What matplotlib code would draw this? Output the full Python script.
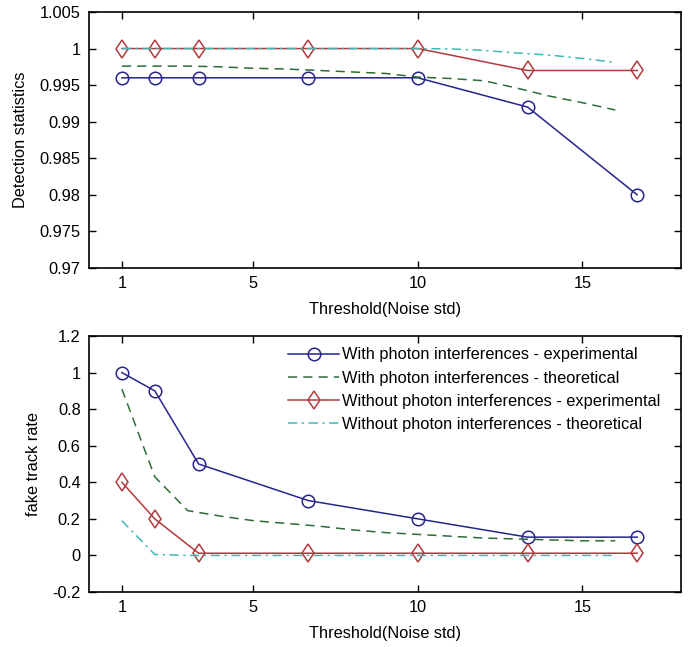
import numpy as np
import matplotlib
matplotlib.use("Agg")
import matplotlib.pyplot as plt

plt.rcParams['font.family'] = ['Liberation Sans', 'DejaVu Sans']
plt.rcParams['font.size'] = 11.8

# thresholds (noise std) of the experimental runs
x_exp = [1, 2, 10/3, 20/3, 10, 40/3, 50/3]
# theoretical curves
x_th = [1, 2, 3, 4, 5, 6, 7, 8, 9, 10, 11, 12, 13, 14, 15, 16]

# detection statistics
det_with_exp = [0.996, 0.996, 0.996, 0.996, 0.996, 0.992, 0.980]
det_without_exp = [1.0, 1.0, 1.0, 1.0, 1.0, 0.997, 0.997]
det_with_th = [0.9976, 0.9976, 0.9976, 0.9975, 0.9973, 0.9972, 0.9970, 0.9968,
               0.9966, 0.9961, 0.9959, 0.9956, 0.9946, 0.9935, 0.9926, 0.9916]
det_without_th = [1.0, 1.0, 1.0, 1.0, 1.0, 1.0, 1.0, 1.0, 1.0, 1.0,
                  0.99995, 0.99975, 0.9994, 0.9991, 0.99865, 0.9981]

# fake track rate
fake_with_exp = [1.0, 0.9, 0.5, 0.3, 0.2, 0.1, 0.1]
fake_without_exp = [0.4, 0.2, 0.012, 0.012, 0.012, 0.012, 0.012]
fake_with_th = [0.91, 0.43, 0.245, 0.215, 0.19, 0.175, 0.16, 0.14,
                0.125, 0.115, 0.105, 0.095, 0.09, 0.085, 0.08, 0.08]
fake_without_th = [0.19, 0.005, 0, 0, 0, 0, 0, 0, 0, 0, 0, 0, 0, 0, 0, 0]

labels = ["With photon interferences - experimental",
          "With photon interferences - theoretical",
          "Without photon interferences - experimental",
          "Without photon interferences - theoretical"]

c_blue = '#25258c'
c_green = '#2f6b37'
c_red = '#b23a3f'
c_cyan = '#3db8b4'

fig = plt.figure(figsize=(6.98, 6.47), dpi=100)
ax1 = fig.add_axes([0.1275, 0.5858, 0.8482, 0.3957])
ax2 = fig.add_axes([0.1275, 0.085, 0.8482, 0.3957])


def draw(ax, w_exp, w_th, wo_exp, wo_th):
    ax.plot(x_exp, w_exp, '-', color=c_blue, lw=1.1, marker='o', ms=9,
            mfc='none', mec=c_blue, mew=1.1, label=labels[0])
    ax.plot(x_th, w_th, '--', color=c_green, lw=1.1, dashes=(6, 4), label=labels[1])
    ax.plot(x_exp, wo_exp, '-', color=c_red, lw=1.1, marker='d', ms=9.5,
            mfc='none', mec=c_red, mew=1.1, label=labels[2])
    ax.plot(x_th, wo_th, '-.', color=c_cyan, lw=1.1, dashes=(6, 3, 1.5, 3), label=labels[3])
    ax.set_xlim(0, 18)
    ax.set_xticks([1, 5, 10, 15])
    ax.tick_params(direction='in', top=True, right=True, length=5, width=1, pad=6)
    for s in ax.spines.values():
        s.set_linewidth(1.2)
    ax.set_xlabel("Threshold(Noise std)", labelpad=8)


draw(ax1, det_with_exp, det_with_th, det_without_exp, det_without_th)
ax1.set_ylim(0.97, 1.005)
ax1.set_yticks([0.97, 0.975, 0.98, 0.985, 0.99, 0.995, 1.0, 1.005])
ax1.set_yticklabels(['0.97', '0.975', '0.98', '0.985', '0.99', '0.995', '1', '1.005'])
ax1.set_ylabel("Detection statistics", labelpad=8)

draw(ax2, fake_with_exp, fake_with_th, fake_without_exp, fake_without_th)
ax2.set_ylim(-0.2, 1.2)
ax2.set_yticks([-0.2, 0, 0.2, 0.4, 0.6, 0.8, 1, 1.2])
ax2.set_yticklabels(['-0.2', '0', '0.2', '0.4', '0.6', '0.8', '1', '1.2'])
ax2.set_ylabel("fake track rate", labelpad=8)
ax2.legend(loc='upper right', frameon=False, handlelength=3.1, handletextpad=0.2,
           labelspacing=0.5, borderaxespad=0.3, bbox_to_anchor=(0.985, 1.0))

fig.savefig("out.png", dpi=100)
